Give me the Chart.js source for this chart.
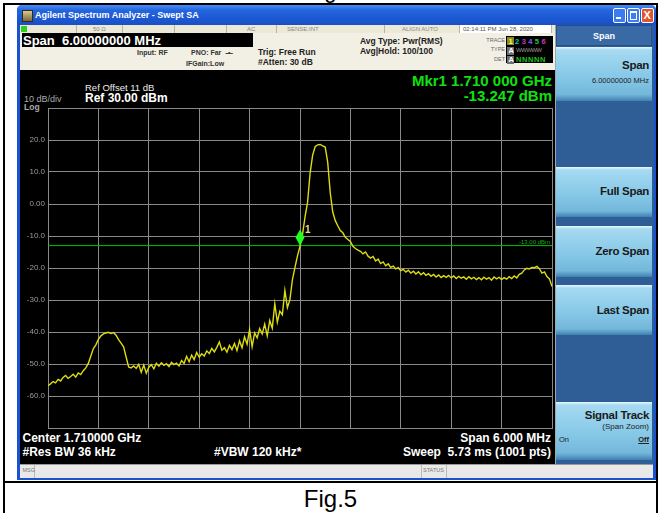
<!DOCTYPE html>
<html>
<head>
<meta charset="utf-8">
<script src="https://cdn.jsdelivr.net/npm/chart.js@4.4.0/dist/chart.umd.min.js"></script>
<style>
	body { margin: 0; width: 661px; height: 513px; background: #fff; position: relative; overflow: hidden; font-family: "Liberation Sans", Arial, sans-serif; }
	.a { position: absolute; }
	.t { position: absolute; white-space: nowrap; line-height: 1; }
	.btn { position: absolute; left: 556px; width: 96px; background: linear-gradient(to bottom, #e9f7fd 0px, #a6daf1 3px, #86c8e7 55%, #73b7da 88%, #3f80b2 100%); }
	.bt { position: absolute; right: 3px; font-weight: bold; color: #1a1a1a; white-space: nowrap; line-height: 1; letter-spacing: -0.3px; }
	.cell { position: absolute; top: 25px; height: 8px; border-right: 1px solid #b9b5a4; }
</style>
</head>
<body>

<!-- table frame and captions -->
<div class="t" style="left:0;width:661px;text-align:center;top:-20px;font-size:22px;">Fig.4</div>
<div class="a" style="left:3px;top:3px;width:651px;height:540px;border:2px solid #000;"></div>
<div class="a" style="left:3px;top:481px;width:655px;height:2px;background:#000;"></div>
<div class="t" style="left:0;width:661px;text-align:center;top:486.7px;font-size:24px;">Fig.5</div>

<!-- analyzer window -->
<div class="a" style="left:17px;top:5px;width:639px;height:475px;background:#1a52d0;border-radius:5px 5px 0 0;"></div>
<div class="a" style="left:17px;top:5px;width:639px;height:20px;border-radius:5px 5px 0 0;background:linear-gradient(to bottom,#4a8ff5 0%,#2466de 25%,#1b57d2 70%,#1a4fc4 100%);"></div>
<div class="a" style="left:22px;top:10px;width:9px;height:10px;background:linear-gradient(#d8c890,#7a6a3a);border:1px solid #3a2a10;"></div>
<div class="t" style="left:35px;top:10.6px;font-size:9px;font-weight:bold;color:#fff;">Agilent Spectrum Analyzer - Swept SA</div>
<div class="a" style="left:613px;top:8px;width:11px;height:13px;background:#3c7cf0;border:1px solid #fff;border-radius:2px;"></div>
<div class="a" style="left:616px;top:17px;width:5px;height:2px;background:#fff;"></div>
<div class="a" style="left:627px;top:8px;width:11px;height:13px;background:#3c7cf0;border:1px solid #fff;border-radius:2px;"></div>
<div class="a" style="left:629.5px;top:10.5px;width:5px;height:6px;border:1px solid #fff;border-top-width:2px;"></div>
<div class="a" style="left:641px;top:8px;width:11px;height:13px;background:#e0552e;border:1px solid #fff;border-radius:2px;"></div>
<div class="t" style="left:643.5px;top:9.5px;font-size:11px;font-weight:bold;color:#fff;">X</div>

<!-- status row -->
<div class="a" style="left:20px;top:25px;width:535px;height:8px;background:#ece9d8;"></div>
<div class="a" style="left:21px;top:26px;width:6px;height:6px;background:#30d020;"></div>
<div class="cell" style="left:20px;width:56px;"></div>
<div class="cell" style="left:77px;width:45px;"></div>
<div class="cell" style="left:123px;width:51px;"></div>
<div class="cell" style="left:175px;width:51px;"></div>
<div class="cell" style="left:227px;width:49px;"></div>
<div class="cell" style="left:277px;width:107px;"></div>
<div class="cell" style="left:385px;width:74px;"></div>
<div class="cell" style="left:460px;width:91px;background:#fff;"></div>
<div class="t" style="left:93px;top:26px;font-size:6px;color:#888;">50 Ω</div>
<div class="t" style="left:247px;top:26px;font-size:6px;color:#888;">AC</div>
<div class="t" style="left:287px;top:26px;font-size:6px;color:#888;">SENSE:INT</div>
<div class="t" style="left:402px;top:26px;font-size:6px;color:#888;">ALIGN AUTO</div>
<div class="t" style="left:463px;top:26px;font-size:6px;color:#555;">02:14:11 PM Jun 28, 2020</div>

<!-- settings panel -->
<div class="a" style="left:20px;top:33px;width:535px;height:37px;background:#f2f0e4;"></div>
<div class="a" style="left:22px;top:33px;width:231px;height:14px;background:#000;"></div>
<div class="t" style="left:23px;top:33.6px;font-size:13px;font-weight:bold;color:#fff;">Span&nbsp; 6.00000000 MHz</div>
<div class="t" style="left:137px;top:48.6px;font-size:7px;font-weight:bold;color:#333;">Input: RF</div>
<div class="t" style="left:191px;top:48.6px;font-size:7px;font-weight:bold;color:#333;">PNO: Far &nbsp;<span style="letter-spacing:-1px">--•--</span></div>
<div class="t" style="left:186px;top:59.6px;font-size:7px;font-weight:bold;color:#333;">IFGain:Low</div>
<div class="t" style="left:258px;top:47.5px;font-size:8.5px;font-weight:bold;color:#222;">Trig: Free Run</div>
<div class="t" style="left:258px;top:57.8px;font-size:8.5px;font-weight:bold;color:#222;">#Atten: 30 dB</div>
<div class="t" style="left:360px;top:36.5px;font-size:8.5px;font-weight:bold;color:#222;">Avg Type: Pwr(RMS)</div>
<div class="t" style="left:360px;top:46.5px;font-size:8.5px;font-weight:bold;color:#222;">Avg|Hold: 100/100</div>
<div class="t" style="right:156px;top:38px;font-size:5.5px;color:#666;">TRACE</div>
<div class="t" style="right:156px;top:47.3px;font-size:5.5px;color:#666;">TYPE</div>
<div class="t" style="right:156px;top:57.3px;font-size:5.5px;color:#666;">DET</div>
<div class="a" style="left:506px;top:36px;width:47px;height:27px;background:#000;"></div>
<div class="a" style="left:507px;top:37px;width:7px;height:8px;background:#8a8a20;"></div>
<div class="t" style="left:508.5px;top:37.5px;font-size:7.5px;font-weight:bold;letter-spacing:2.4px;"><span style="color:#ffff40">1</span><span style="color:#10c8c8">2</span><span style="color:#c040c0">3</span><span style="color:#8060f0">4</span><span style="color:#30c030">5</span><span style="color:#c03cc0">6</span></div>
<div class="a" style="left:507px;top:46.5px;width:7px;height:8px;background:#707070;"></div>
<div class="t" style="left:508.5px;top:47px;font-size:7.5px;font-weight:bold;color:#fff;">A</div>
<div class="t" style="left:516px;top:47px;font-size:6px;color:#9a9a9a;letter-spacing:-0.6px;">WWWWW</div>
<div class="a" style="left:507px;top:55.5px;width:7px;height:8px;background:#707070;"></div>
<div class="t" style="left:508.5px;top:56px;font-size:7.5px;font-weight:bold;color:#fff;">A</div>
<div class="t" style="left:516px;top:56px;font-size:7.5px;font-weight:bold;color:#20c020;letter-spacing:0.6px;">NNNNN</div>

<!-- display -->
<div class="a" style="left:20px;top:70px;width:535px;height:394px;background:#000;"></div>
<div class="t" style="left:85px;top:82.6px;font-size:9.5px;color:#eee;">Ref Offset 11 dB</div>
<div class="t" style="left:85px;top:92.4px;font-size:12px;font-weight:bold;color:#fff;">Ref 30.00 dBm</div>
<div class="t" style="left:24px;top:94.6px;font-size:9px;color:#aaa;">10 dB/div</div>
<div class="t" style="left:24px;top:102.8px;font-size:8.5px;font-weight:bold;color:#aaa;">Log</div>
<div class="t" style="right:109px;top:72.6px;font-size:15px;font-weight:bold;color:#10e010;">Mkr1 1.710 000 GHz</div>
<div class="t" style="right:109px;top:87.6px;font-size:15px;font-weight:bold;color:#10e010;">-13.247 dBm</div>
<div class="t" style="left:22.5px;top:432.4px;font-size:12px;font-weight:bold;color:#fff;">Center 1.710000 GHz</div>
<div class="t" style="left:22.5px;top:445.8px;font-size:12px;font-weight:bold;color:#fff;">#Res BW 36 kHz</div>
<div class="t" style="left:214px;top:445.8px;font-size:12px;font-weight:bold;color:#fff;">#VBW 120 kHz*</div>
<div class="t" style="right:110px;top:432.4px;font-size:12px;font-weight:bold;color:#fff;">Span 6.000 MHz</div>
<div class="t" style="right:110px;top:445.8px;font-size:12px;font-weight:bold;color:#fff;">Sweep&nbsp; 5.73 ms (1001 pts)</div>
<canvas id="sa" class="a" style="left:21px;top:70px;" width="534" height="385"></canvas>

<!-- softkey panel -->
<div class="a" style="left:555px;top:25px;width:98px;height:439px;background:#2f5e97;border-left:1px solid #9aa;"></div>
<div class="a" style="left:556px;top:25px;width:96px;height:21px;background:#3a6aa6;border:1px solid #264f82;box-sizing:border-box;"></div>
<div class="t" style="left:556px;width:96px;text-align:center;top:31.6px;font-size:9px;font-weight:bold;color:#fff;">Span</div>
<div class="btn" style="top:47px;height:54px;"><div class="bt" style="top:13.4px;font-size:11.5px;">Span</div><div class="t" style="right:3px;top:30.3px;font-size:7.5px;color:#222;">6.00000000 MHz</div></div>
<div class="btn" style="top:167px;height:50px;"><div class="bt" style="top:19.4px;font-size:11.5px;">Full Span</div></div>
<div class="btn" style="top:226px;height:51px;"><div class="bt" style="top:20px;font-size:11.5px;">Zero Span</div></div>
<div class="btn" style="top:285px;height:50px;"><div class="bt" style="top:20px;font-size:11.5px;">Last Span</div></div>
<div class="btn" style="top:402px;height:58px;"><div class="bt" style="top:8.4px;font-size:11.5px;">Signal Track</div><div class="t" style="right:3px;top:20.5px;font-size:8px;color:#222;">(Span Zoom)</div><div class="t" style="left:3px;top:34.3px;font-size:7.5px;color:#222;">On</div><div class="t" style="right:3px;top:34.3px;font-size:7.5px;font-weight:bold;color:#222;text-decoration:underline;">Off</div></div>

<!-- message bar -->
<div class="a" style="left:20px;top:464px;width:633px;height:13px;background:#e9e9e9;border-top:1px solid #999;"></div>
<div class="a" style="left:34px;top:465px;width:1px;height:13px;background:#bbb;"></div>
<div class="a" style="left:421px;top:465px;width:1px;height:13px;background:#bbb;"></div>
<div class="a" style="left:446px;top:465px;width:1px;height:13px;background:#bbb;"></div>
<div class="t" style="left:22.5px;top:467.5px;font-size:5.5px;color:#777;">MSG</div>
<div class="t" style="left:423px;top:467.5px;font-size:5.5px;color:#777;">STATUS</div>

<script>
// sweep settings (Center 1.710 GHz, Span 6 MHz)
const sweepStartMHz = 1707.0;
const sweepStopMHz = 1713.0;
const gridStepMHz = 0.6;

// trace 1, dBm (201 points across the span)
const traceDbm = [
	-56.8, -56.2, -55.5, -55.9, -54.8, -55.3, -54.2, -53.6, -54.5, -53.9,
	-53.2, -54.1, -52.8, -53.3, -52.1, -51.2, -49.8, -47.5, -45.2, -44.0,
	-42.3, -41.2, -40.6, -40.3, -40.1, -40.5, -40.2, -41.0, -42.4, -43.5,
	-44.6, -47.8, -50.9, -51.2, -50.6, -51.4, -50.1, -52.6, -50.3, -52.9,
	-51.0, -50.2, -51.5, -49.8, -50.7, -49.6, -50.4, -49.9, -50.8, -49.5,
	-50.2, -49.7, -50.6, -48.9, -49.8, -47.6, -49.3, -47.2, -48.6, -46.4,
	-47.9, -46.8, -47.5, -45.9, -46.7, -45.1, -46.2, -44.8, -43.1, -45.7,
	-44.9, -46.3, -44.2, -45.5, -43.6, -45.8, -42.7, -44.9, -41.5, -43.8,
	-39.2, -44.6, -40.3, -41.8, -38.9, -40.6, -37.5, -41.2, -36.4, -38.8,
	-31.2, -36.9, -33.5, -34.6, -27.0, -32.4, -29.9, -23.6, -19.8, -16.2,
	-13.2, -9.5, -4.0, 0.5, 9.6, 15.2, 17.9, 18.5, 18.6, 18.2,
	17.8, 13.0, 3.5, -2.5, -5.2, -6.8, -8.3, -9.0, -10.4, -11.1,
	-11.7, -13.2, -13.9, -14.4, -14.8, -15.6, -15.0, -16.3, -16.9, -16.4,
	-17.8, -17.2, -18.6, -18.1, -19.3, -18.7, -19.8, -19.4, -20.3, -19.9,
	-20.8, -20.4, -21.3, -20.7, -21.6, -21.0, -21.9, -21.2, -22.1, -21.5,
	-22.3, -21.8, -22.6, -22.0, -22.8, -22.2, -23.0, -22.4, -22.9, -22.3,
	-23.1, -22.5, -23.3, -22.6, -23.2, -22.8, -23.5, -22.7, -23.4, -22.9,
	-23.6, -23.0, -23.7, -22.9, -23.5, -23.0, -23.8, -22.8, -23.4, -22.9,
	-23.6, -23.0, -23.5, -22.7, -23.3, -22.5, -23.1, -22.0, -21.6, -20.6,
	-20.1, -20.3, -19.8, -19.9, -19.5, -20.2, -21.6, -21.2, -22.7, -23.4,
	-25.8
];

// amplitude axis: Ref 30 dBm, 10 dB/div, 10 divisions
const refLevelDbm = 30;
const bottomDbm = -70;
const dbPerDiv = 10;

const displayLineDbm = -13.0;
const displayLineLabel = '-13.00 dBm';
const markerFreqMHz = 1710.0;
const markerDbm = -13.247;

const gridColor = '#8a8a8a';

// marker diamond, marker number and display line label
const markerPlugin = {
	id: 'marker',
	afterDatasetsDraw(chart) {
		const { ctx, scales: { x, y } } = chart;
		const px = x.getPixelForValue(markerFreqMHz);
		const py = y.getPixelForValue(markerDbm);
		ctx.save();
		ctx.fillStyle = '#20ff20';
		ctx.beginPath();
		ctx.moveTo(px, py - 1);
		ctx.lineTo(px + 4.5, py - 9);
		ctx.lineTo(px, py - 17);
		ctx.lineTo(px - 4.5, py - 9);
		ctx.closePath();
		ctx.fill();
		ctx.fillStyle = '#e6e070';
		ctx.font = 'bold 10px "Liberation Sans", Arial';
		ctx.textBaseline = 'middle';
		ctx.fillText('1', px + 5, py - 16);
		ctx.fillStyle = '#10b010';
		ctx.font = '6px "Liberation Sans", Arial';
		ctx.textAlign = 'right';
		ctx.textBaseline = 'alphabetic';
		ctx.fillText(displayLineLabel, x.right - 2, y.getPixelForValue(displayLineDbm) - 2);
		ctx.restore();
	}
};

const sweepPoints = traceDbm.map((v, i) => ({
	x: sweepStartMHz + i * (sweepStopMHz - sweepStartMHz) / (traceDbm.length - 1),
	y: v
}));

new Chart(document.getElementById('sa'), {
	type: 'line',
	data: {
		datasets: [{
			data: sweepPoints,
			borderColor: '#dcdc10',
			borderWidth: 1.4,
			pointRadius: 0,
			tension: 0
		}, {
			data: [{ x: sweepStartMHz, y: displayLineDbm }, { x: sweepStopMHz, y: displayLineDbm }],
			borderColor: '#00c000',
			borderWidth: 1,
			pointRadius: 0
		}]
	},
	options: {
		responsive: false,
		animation: false,
		layout: { padding: { left: 0, top: 38, right: 3, bottom: 27 } },
		plugins: { legend: { display: false }, tooltip: { enabled: false } },
		scales: {
			x: {
				type: 'linear',
				min: sweepStartMHz,
				max: sweepStopMHz,
				ticks: { display: false, stepSize: gridStepMHz },
				grid: { color: gridColor, drawTicks: false },
				border: { color: gridColor },
				afterFit(s) { s.height = 0; }
			},
			y: {
				min: bottomDbm,
				max: refLevelDbm,
				ticks: {
					stepSize: dbPerDiv,
					color: '#9a9a9a',
					padding: 3,
					font: { family: '"Liberation Sans", Arial', size: 8 },
					callback: (v) => (v === refLevelDbm || v === bottomDbm) ? '' : (v === 0 ? '0.00' : v.toFixed(1))
				},
				grid: { color: gridColor, drawTicks: false },
				border: { color: gridColor },
				afterFit(s) { s.width = 27; }
			}
		}
	},
	plugins: [markerPlugin]
});
</script>
</body>
</html>
